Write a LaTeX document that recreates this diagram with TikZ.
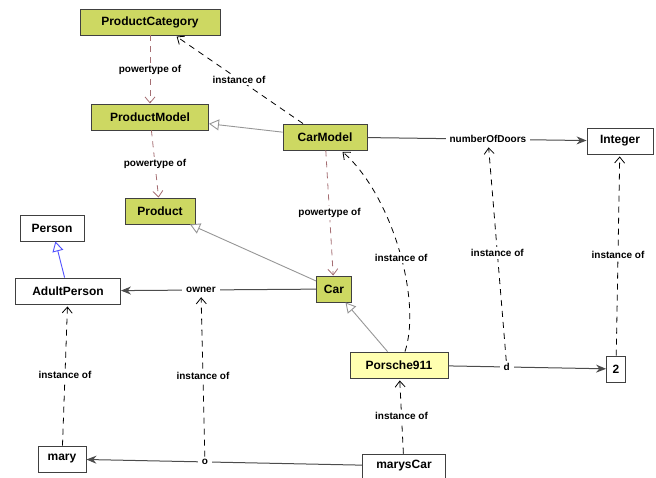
\documentclass[tikz,border=0pt]{standalone}
\usepackage{fontspec}
\setmainfont{Liberation Sans}
\usetikzlibrary{arrows.meta, positioning}
\definecolor{ModelGreen}{RGB}{205,216,98}
\definecolor{ModelYellow}{RGB}{255,255,176}
\definecolor{PowerBrown}{RGB}{165,110,115}
\definecolor{BoxGrey}{RGB}{64,64,64}
\definecolor{GenGrey}{RGB}{150,150,150}
\definecolor{GenBlue}{RGB}{80,80,255}

\begin{document}
\begin{tikzpicture}[
    x=1pt, y=-1pt,
    box/.style = {draw=BoxGrey, line width=0.9pt, minimum height=26pt, inner xsep=0pt, text centered, font=\fontsize{12}{14}\selectfont\bfseries},
    category/.style = {box, fill=ModelGreen},
    single/.style = {box, fill=ModelYellow},
    plain/.style = {box, fill=white},
    lbl/.style = {fill=white, inner xsep=4pt, inner ysep=2pt, font=\fontsize{10}{12}\selectfont\bfseries},
    powertype/.style = {draw=PowerBrown, line width=0.8pt, dash pattern=on 6pt off 5pt, -{Straight Barb[length=6pt, width=10pt]}},
    instof/.style = {draw=black, line width=0.8pt, dash pattern=on 6pt off 5pt, -{Straight Barb[length=6pt, width=10pt]}, shorten >=2pt},
    gen/.style = {draw=GenGrey, line width=0.9pt, -{Triangle[open, length=10pt, width=11pt, fill=white]}},
    assoc/.style = {draw=black!70, line width=1pt, -{Stealth[length=10pt, width=8pt]}}
]
\useasboundingbox (0,0) rectangle (656,478);
% Powertype classes
\node[category, minimum width=140pt] (pcat) at (150,22) {ProductCategory};
\node[category, minimum width=117pt] (pmodel) at (150,117) {ProductModel};
\node[category, minimum width=70pt] (product) at (160,211) {Product};
\node[category, minimum width=84pt] (carmodel) at (325,137) {CarModel};
\node[category, minimum width=35pt] (car) at (334,289) {Car};
% Other classes
\node[plain, minimum width=64pt] (person) at (52,228) {Person};
\node[plain, minimum width=105pt] (adult) at (68,291) {AdultPerson};
\node[plain, minimum width=66pt] (integer) at (620,141) {Integer};
% Instances
\node[single, minimum width=98pt] (porsche) at (399,365) {Porsche911};
\node[plain, minimum width=19pt] (two) at (616,369) {2};
\node[plain, minimum width=48pt] (mary) at (62,459) {mary};
\node[plain, minimum width=83pt, minimum height=24pt] (maryscar) at (404,466) {marysCar};

% Powertype links
\draw[powertype] (pcat) -- node[lbl] {powertype of} (pmodel);
\draw[powertype] (pmodel) -- node[lbl] {powertype of} (product);
\draw[powertype] (carmodel) -- node[lbl] {powertype of} (car);

% Generalisations
\draw[gen] (carmodel) -- (pmodel);
\draw[gen] (car) -- (product);
\draw[gen] (porsche) -- (car);
\draw[gen, draw=GenBlue] (adult) -- (person);

% Associations and links
\draw[assoc] (car) -- node[lbl, pos=0.59] (owner) {owner} (adult);
\draw[assoc] (carmodel) -- node[lbl, pos=0.55] (doors) {numberOfDoors} (integer);
\draw[assoc] (porsche) -- node[lbl, pos=0.37] (dlink) {d} (two);
\draw[assoc] (maryscar) -- node[lbl, pos=0.57] (olink) {o} (mary);

% Instance of
\draw[instof] ([xshift=-22pt]carmodel.north) -- node[lbl] {instance of} ([xshift=25pt]pcat.south);
\draw[instof] ([xshift=6pt]porsche.north) .. controls (422,300) and (392,195) .. node[lbl, pos=0.46] {instance of} ([xshift=16pt]carmodel.south);
\draw[instof] (dlink) -- node[lbl] {instance of} (doors);
\draw[instof] (two) -- node[lbl] {instance of} (integer);
\draw[instof] (mary) -- node[lbl] {instance of} (adult);
\draw[instof] (olink) -- node[lbl] {instance of} (owner);
\draw[instof] (maryscar) -- node[lbl] {instance of} (porsche);
\end{tikzpicture}
\end{document}
